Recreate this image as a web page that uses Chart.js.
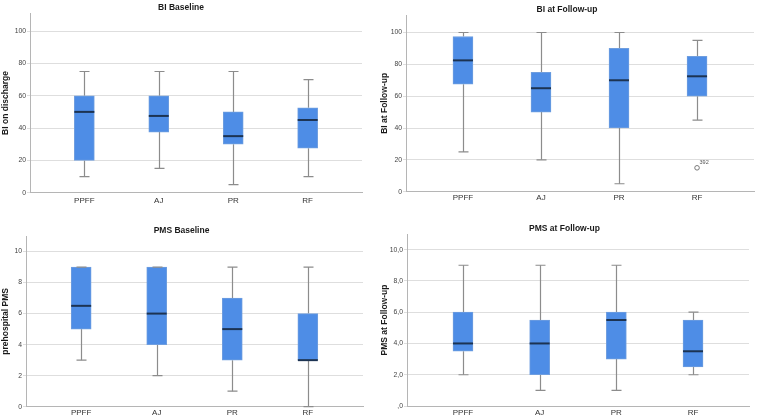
<!DOCTYPE html>
<html>
<head>
<meta charset="utf-8">
<script src="https://cdn.jsdelivr.net/npm/chart.js@4.4.1/dist/chart.umd.min.js"></script>
<style>
html,body{margin:0;padding:0;background:#fff;width:759px;height:419px;overflow:hidden;}
.p{position:absolute;}
canvas{display:block;}
</style>
</head>
<body>
<div class="p" style="left:0;top:0"><canvas id="c1" width="380" height="210"></canvas></div>
<div class="p" style="left:380px;top:0"><canvas id="c2" width="379" height="210"></canvas></div>
<div class="p" style="left:0;top:210px"><canvas id="c3" width="380" height="209"></canvas></div>
<div class="p" style="left:380px;top:210px"><canvas id="c4" width="379" height="209"></canvas></div>
<script>
// ---- data ----
const categories = ['PPFF', 'AJ', 'PR', 'RF'];

// BI Baseline
const biBaseMin = [10, 15, 5, 10];
const biBaseQ1  = [20, 37.5, 30, 27.5];
const biBaseMed = [50, 47.5, 35, 45];
const biBaseQ3  = [60, 60, 50, 52.5];
const biBaseMax = [75, 75, 75, 70];

// BI at Follow-up
const biFuMin = [25, 20, 5, 45];
const biFuQ1  = [67.5, 50, 40, 60];
const biFuMed = [82.5, 65, 70, 72.5];
const biFuQ3  = [97.5, 75, 90, 85];
const biFuMax = [100, 100, 100, 95];
const biFuOutliers = [{cat: 3, value: 15, label: '392'}];

// PMS Baseline
const pmsBaseMin = [3, 2, 1, 0];
const pmsBaseQ1  = [5, 4, 3, 3];
const pmsBaseMed = [6.5, 6, 5, 3];
const pmsBaseQ3  = [9, 9, 7, 6];
const pmsBaseMax = [9, 9, 9, 9];

// PMS at Follow-up
const pmsFuMin = [2, 1, 1, 2];
const pmsFuQ1  = [3.5, 2, 3, 2.5];
const pmsFuMed = [4, 4, 5.5, 3.5];
const pmsFuQ3  = [6, 5.5, 6, 5.5];
const pmsFuMax = [9, 9, 9, 6];

const biTicks = [0, 20, 40, 60, 80, 100];
const pmsTicks = [0, 2, 4, 6, 8, 10];

// ---- box plot plugin (whiskers, medians, outliers) ----
const boxPlugin = {
  id: 'boxExtras',
  beforeDatasetsDraw(chart, args, o) {
    const x = chart.scales.x, y = chart.scales.y, ctx = chart.ctx;
    ctx.save();
    ctx.strokeStyle = '#8c8c8c';
    ctx.lineWidth = 1.2;
    o.min.forEach((v, i) => {
      const cx = Math.round(x.getPixelForValue(i)) + 0.5;
      const yMin = y.getPixelForValue(v), yMax = y.getPixelForValue(o.max[i]);
      const yQ1 = y.getPixelForValue(o.q1[i]), yQ3 = y.getPixelForValue(o.q3[i]);
      ctx.beginPath();
      ctx.moveTo(cx, yMin); ctx.lineTo(cx, yQ1);
      ctx.moveTo(cx, yQ3); ctx.lineTo(cx, yMax);
      ctx.stroke();
    });
    ctx.restore();
  },
  afterDatasetsDraw(chart, args, o) {
    const x = chart.scales.x, y = chart.scales.y, ctx = chart.ctx;
    ctx.save();
    ctx.strokeStyle = '#8c8c8c';
    ctx.lineWidth = 1.2;
    o.min.forEach((v, i) => {
      const cx = Math.round(x.getPixelForValue(i)) + 0.5;
      const yMin = y.getPixelForValue(v), yMax = y.getPixelForValue(o.max[i]);
      ctx.beginPath();
      ctx.moveTo(cx - 5, yMin); ctx.lineTo(cx + 5, yMin);
      ctx.moveTo(cx - 5, yMax); ctx.lineTo(cx + 5, yMax);
      ctx.stroke();
    });
    ctx.strokeStyle = '#1c3352';
    ctx.lineWidth = 2;
    o.med.forEach((v, i) => {
      const cx = x.getPixelForValue(i);
      const py = y.getPixelForValue(v);
      ctx.beginPath();
      ctx.moveTo(cx - 10, py); ctx.lineTo(cx + 10, py);
      ctx.stroke();
    });
    (o.outliers || []).forEach(p => {
      const cx = x.getPixelForValue(p.cat), py = y.getPixelForValue(p.value);
      ctx.strokeStyle = '#777';
      ctx.lineWidth = 1;
      ctx.beginPath();
      ctx.arc(cx, py, 2.3, 0, Math.PI * 2);
      ctx.stroke();
      ctx.fillStyle = '#555';
      ctx.font = '5.5px "Liberation Sans", Arial, sans-serif';
      ctx.textAlign = 'left';
      ctx.textBaseline = 'middle';
      ctx.fillText(p.label, cx + 2.5, py - 5);
    });
    ctx.restore();
  }
};

const FONT = '"Liberation Sans", Arial, Helvetica, sans-serif';

function makeChart(id, p) {
  const boxes = p.q1.map((v, i) => ({x: i, y: [v, p.q3[i]]}));
  return new Chart(document.getElementById(id), {
    type: 'bar',
    data: {
      datasets: [{
        data: boxes,
        backgroundColor: '#4e8de6',
        borderColor: '#6f9edf',
        borderWidth: 1,
        borderSkipped: false,
        barThickness: 20
      }]
    },
    options: {
      responsive: false,
      animation: false,
      devicePixelRatio: 1,
      layout: {padding: {left: 0, right: p.padRight, top: p.padTop, bottom: 0}},
      plugins: {
        legend: {display: false},
        tooltip: {enabled: false},
        title: {
          display: true, text: p.title, color: '#1a1a1a',
          font: {family: FONT, size: 8.5, weight: 'bold', lineHeight: 0.9},
          padding: {top: 0, bottom: 2}
        },
        boxExtras: {min: p.min, q1: p.q1, med: p.med, q3: p.q3, max: p.max, outliers: p.outliers}
      },
      scales: {
        x: {
          type: 'linear', min: -0.73, max: 3.73, offset: false,
          afterBuildTicks: s => { s.ticks = categories.map((c, i) => ({value: i})); },
          afterFit: s => { s.height = p.xHeight; },
          grid: {display: false, drawTicks: false, offset: false},
          border: {display: true, color: '#b5b5b5', width: 1},
          ticks: {
            autoSkip: false, maxRotation: 0, padding: p.xPad, color: '#333',
            font: {family: FONT, size: 8},
            callback: v => categories[v]
          }
        },
        y: {
          min: 0, max: p.yMax,
          afterBuildTicks: s => { s.ticks = p.ticks.map(v => ({value: v})); },
          afterFit: s => { s.width = p.left; },
          grid: {color: '#dedede', lineWidth: 1, drawTicks: true, tickLength: 3},
          border: {display: true, color: '#b5b5b5', width: 1},
          ticks: {
            padding: 1, color: '#444',
            font: {family: FONT, size: 6.8},
            callback: p.fmt || (v => String(v))
          },
          title: {
            display: true, text: p.yTitle, color: '#1a1a1a',
            font: {family: FONT, size: 8.5, weight: 'bold', lineHeight: 1.0},
            padding: {top: p.yTitlePad, bottom: 0}
          }
        }
      }
    },
    plugins: [boxPlugin]
  });
}

makeChart('c1', {
  title: 'BI Baseline', yTitle: 'BI on discharge',
  min: biBaseMin, q1: biBaseQ1, med: biBaseMed, q3: biBaseQ3, max: biBaseMax,
  ticks: biTicks, yMax: 111,
  left: 30, padRight: 18, padTop: 3.65, xHeight: 17.3, xPad: 3.5, yTitlePad: 1
});
makeChart('c2', {
  title: 'BI at Follow-up', yTitle: 'BI at Follow-up',
  min: biFuMin, q1: biFuQ1, med: biFuMed, q3: biFuQ3, max: biFuMax, outliers: biFuOutliers,
  ticks: biTicks, yMax: 111,
  left: 26, padRight: 5, padTop: 5.35, xHeight: 18.3, xPad: 1, yTitlePad: 0
});
makeChart('c3', {
  title: 'PMS Baseline', yTitle: 'prehospital PMS',
  min: pmsBaseMin, q1: pmsBaseQ1, med: pmsBaseMed, q3: pmsBaseQ3, max: pmsBaseMax,
  ticks: pmsTicks, yMax: 11,
  left: 26, padRight: 17, padTop: 16.35, xHeight: 12.3, xPad: 1, yTitlePad: 1
});
makeChart('c4', {
  title: 'PMS at Follow-up', yTitle: 'PMS at Follow-up',
  min: pmsFuMin, q1: pmsFuQ1, med: pmsFuMed, q3: pmsFuQ3, max: pmsFuMax,
  ticks: pmsTicks, yMax: 11,
  fmt: v => v === 0 ? ',0' : v.toFixed(1).replace('.', ','),
  left: 27, padRight: 10, padTop: 14.35, xHeight: 13, xPad: 1.5, yTitlePad: 0
});
</script>
</body>
</html>
